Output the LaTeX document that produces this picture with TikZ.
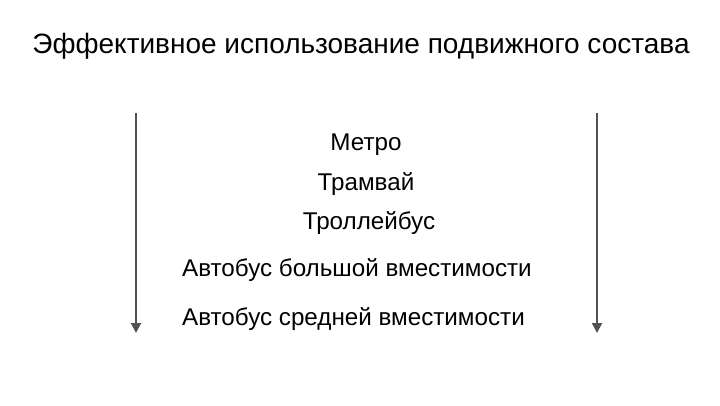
\documentclass[tikz,border=0pt]{standalone}
\usepackage{fontspec}
\setmainfont{Liberation Sans}
\usetikzlibrary{arrows.meta}
\begin{document}
\begin{tikzpicture}[x=1pt,y=-1pt,
  lbl/.style={inner sep=0pt,font=\fontsize{24.2}{28}\selectfont},
  axis/.style={draw=black!68,line width=2pt,-{Triangle[length=10pt,width=10pt]}}]
\useasboundingbox (0,0) rectangle (720,405);
\node[inner sep=0pt,font=\fontsize{28}{32}\selectfont] (title) at (361,46) {Эффективное использование подвижного состава};
\node[lbl] (metro) at (366,145) {Метро};
\node[lbl] (tram) at (366,184) {Трамвай};
\node[lbl] (troll) at (369,223) {Троллейбус};
\node[lbl,anchor=west] (busL) at (182,270) {Автобус большой вместимости};
\node[lbl,anchor=west] (busM) at (182,319) {Автобус средней вместимости};
\coordinate (a1) at (136,113);
\coordinate (b1) at (136,333);
\coordinate (a2) at (597,113);
\coordinate (b2) at (597,333);
\draw[axis] (a1) -- (b1);
\draw[axis] (a2) -- (b2);
\end{tikzpicture}
\end{document}
